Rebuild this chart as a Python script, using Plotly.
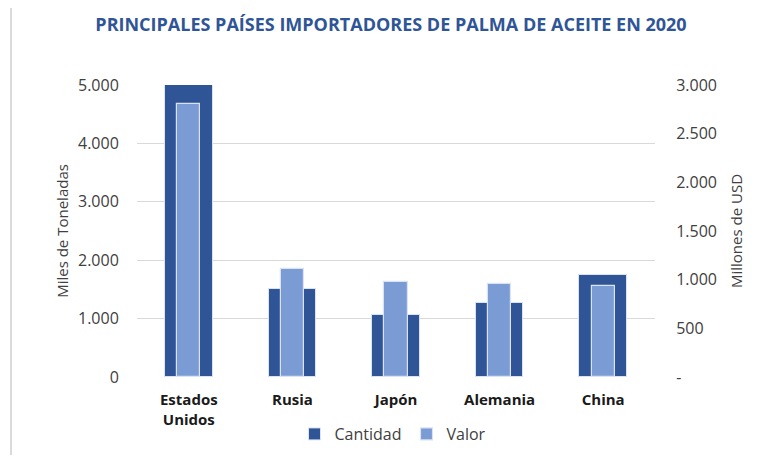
import plotly.graph_objects as go

paises = ["Estados<br>Unidos", "Rusia", "Japón", "Alemania", "China"]
cantidad = [5000, 1515, 1062, 1272, 1748]   # miles de toneladas
valor = [2805, 1110, 980, 958, 932]        # millones de USD
left_ticks = [0, 1000, 2000, 3000, 4000, 5000]
left_text = ["0", "1.000", "2.000", "3.000", "4.000", "5.000"]
right_ticks = [0, 500, 1000, 1500, 2000, 2500, 3000]
right_text = ["-", "500", "1.000", "1.500", "2.000", "2.500", "3.000"]

dark = "#2f5597"
light = "#7b9bd5"
font = "Open Sans"

fig = go.Figure()
fig.add_trace(go.Bar(x=paises, y=cantidad, name="Cantidad", marker=dict(color=dark, line=dict(color="#dae3f3", width=1)),
                     width=[0.46] * len(paises), yaxis="y"))
fig.add_trace(go.Bar(x=paises, y=valor, name="Valor", marker=dict(color=light, line=dict(color="#dae3f3", width=1.2)),
                     width=[0.225] * len(paises), yaxis="y2"))

# page body has an 8px margin; work in page coords and subtract it
O = 8
L, R, T, B = 137 - O, 655 - O, 85 - O, 377 - O
W, H = 774 - O, 455 - O
pw, ph = R - L, B - T

def px(x):
    return (x - O - L) / pw

def py(y):
    return (B - (y - O)) / ph

fig.update_layout(
    width=W, height=H,
    margin=dict(l=L, r=W - R, t=T, b=H - B, pad=0, autoexpand=False),
    paper_bgcolor="white", plot_bgcolor="white",
    barmode="overlay",
    font=dict(family=font, color="#595959", size=14),
    title=dict(text="<b>PRINCIPALES PAÍSES IMPORTADORES DE PALMA DE ACEITE EN 2020</b>",
               x=0.5, xanchor="center", y=1 - (25 - O) / H, yanchor="middle",
               font=dict(family=font, size=18, color="#2f5597")),
    xaxis=dict(tickfont=dict(family=font, size=15, color="#1a1a1a", weight="bold"),
               showline=False, ticks="outside", ticklen=9, tickcolor="rgba(0,0,0,0)",
               showgrid=False, automargin=False),
    yaxis=dict(range=[0, 5000], tickvals=left_ticks, ticktext=left_text,
               showgrid=True, gridcolor="#d9d9d9", gridwidth=1, zeroline=False,
               ticks="outside", ticklen=14, tickcolor="rgba(0,0,0,0)", automargin=False,
               tickfont=dict(size=16, color="#404040"),
               title=dict(text="Miles de Toneladas", standoff=5, font=dict(size=15, color="#404040"))),
    yaxis2=dict(range=[0, 3000], tickvals=right_ticks, ticktext=right_text,
                overlaying="y", side="right", showgrid=False, zeroline=False,
                ticks="outside", ticklen=17, tickcolor="rgba(0,0,0,0)", automargin=False,
                tickfont=dict(size=16, color="#404040"),
                title=dict(text="Millones de USD", standoff=15, font=dict(size=15, color="#404040"))),
    legend=dict(orientation="h", x=px(393), xanchor="center", y=py(434), yanchor="middle",
                font=dict(size=16, color="#404040"), itemwidth=30, traceorder="normal"),
    bargap=0,
    shapes=[dict(type="rect", xref="paper", yref="paper",
                 x0=px(11), x1=px(767), y0=py(470), y1=py(3),
                 line=dict(color="#d0d0d0", width=1.5), fillcolor="rgba(0,0,0,0)", layer="below")],
)

fig.write_html("out.html")
